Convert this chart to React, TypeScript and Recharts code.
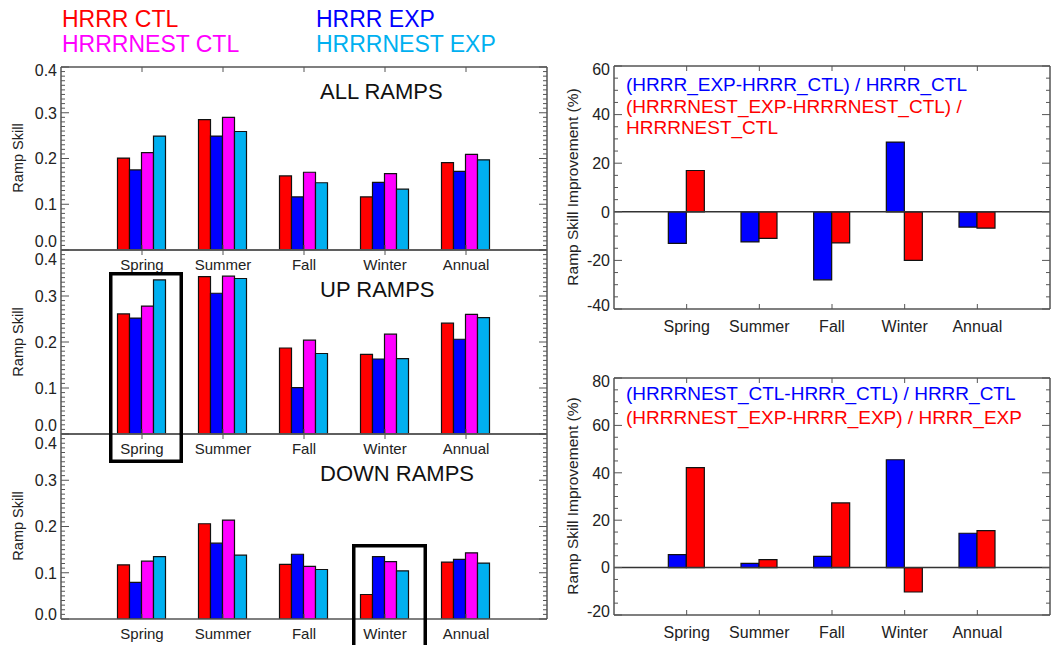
import React from 'react';
import { BarChart, Bar, Line, XAxis, YAxis, ReferenceLine } from 'recharts';

const seasons = ['Spring', 'Summer', 'Fall', 'Winter', 'Annual'];
const seasonPos = [1, 2, 3, 4, 5];

// ramp skill, ALL RAMPS
const allHrrrCtl = [0.201, 0.285, 0.162, 0.116, 0.191];
const allHrrrExp = [0.175, 0.249, 0.116, 0.148, 0.172];
const allNestCtl = [0.213, 0.29, 0.17, 0.167, 0.209];
const allNestExp = [0.249, 0.259, 0.147, 0.133, 0.197];

// UP RAMPS
const upHrrrCtl = [0.261, 0.342, 0.187, 0.173, 0.241];
const upHrrrExp = [0.252, 0.306, 0.101, 0.163, 0.206];
const upNestCtl = [0.278, 0.343, 0.204, 0.217, 0.26];
const upNestExp = [0.335, 0.338, 0.175, 0.164, 0.253];

// DOWN RAMPS
const downHrrrCtl = [0.117, 0.206, 0.118, 0.053, 0.123];
const downHrrrExp = [0.079, 0.164, 0.14, 0.135, 0.129];
const downNestCtl = [0.125, 0.214, 0.114, 0.124, 0.143];
const downNestExp = [0.135, 0.138, 0.107, 0.104, 0.121];

// improvement (%)
const expVsCtlHrrr = [-13.0, -12.4, -28.0, 28.7, -6.3];
const expVsCtlNest = [17.0, -10.9, -12.8, -20.0, -6.7];
const nestVsHrrrCtl = [5.5, 1.8, 4.7, 45.5, 14.5];
const nestVsHrrrExp = [42.2, 3.4, 27.3, -10.3, 15.6];

// axis ticks (major labels + minor marks)
const skillTicks = Array.from({ length: 41 }, (_, i) => i / 100);
const improveTopTicks = Array.from({ length: 21 }, (_, i) => -40 + i * 5);
const improveBottomTicks = Array.from({ length: 21 }, (_, i) => -20 + i * 5);

const FONT = '"Liberation Sans", Arial, Helvetica, sans-serif';
const FRAME = '#555';
const RED = '#ff0000';
const BLUE = '#0000ff';
const MAGENTA = '#ff00ff';
const CYAN = '#00b0f0';

const rows4 = (a: number[], b: number[], c: number[], d: number[]) =>
  seasons.map((name, i) => ({ name, pos: seasonPos[i], a: a[i], b: b[i], c: c[i], d: d[i] }));
const rows2 = (a: number[], b: number[]) =>
  seasons.map((name, i) => ({ name, pos: seasonPos[i], a: a[i], b: b[i] }));

const allRows = rows4(allHrrrCtl, allHrrrExp, allNestCtl, allNestExp);
const upRows = rows4(upHrrrCtl, upHrrrExp, upNestCtl, upNestExp);
const downRows = rows4(downHrrrCtl, downHrrrExp, downNestCtl, downNestExp);
const expRows = rows2(expVsCtlHrrr, expVsCtlNest);
const nestRows = rows2(nestVsHrrrCtl, nestVsHrrrExp);

const makeYTick =
  (majorStep: number, min: number, max: number, side: 'left' | 'right', fmt: (v: number) => string, minShift = -4, maxShift = 3) =>
  (props: any) => {
    const { x, y, payload } = props;
    const v = payload.value;
    const major = Math.abs(v / majorStep - Math.round(v / majorStep)) < 1e-6;
    const len = major ? 8 : 4;
    if (side === 'right') {
      return <line x1={x} x2={x - len} y1={y} y2={y} stroke={FRAME} strokeWidth={1} />;
    }
    const ax = x + 4;
    let shift = 0;
    if (Math.abs(v - min) < 1e-6) shift = minShift;
    if (Math.abs(v - max) < 1e-6) shift = maxShift;
    return (
      <g>
        <line x1={ax} x2={ax + len} y1={y} y2={y} stroke={FRAME} strokeWidth={1} />
        {major && (
          <text x={ax - 4} y={y + shift} dy="0.36em" textAnchor="end" fontSize={16} fill="#222" fontFamily={FONT}>
            {fmt(v)}
          </text>
        )}
      </g>
    );
  };

const makeXTick = (side: 'top' | 'bottom', labelGap: number, fontSize: number) => (props: any) => {
  const { x, y, payload } = props;
  if (side === 'top') return <line x1={x} x2={x} y1={y} y2={y + 5} stroke={FRAME} />;
  const idx = seasonPos.indexOf(payload.value);
  return (
    <g>
      <line x1={x} x2={x} y1={y} y2={y - 5} stroke={FRAME} />
      <text x={x} y={y + labelGap} dy="0.36em" textAnchor="middle" fontSize={fontSize} fill="#222" fontFamily={FONT}>
        {seasons[idx]}
      </text>
    </g>
  );
};

const fmtSkill = (v: number) => v.toFixed(1);
const fmtPct = (v: number) => String(Math.round(v));
const skillTopTick = makeYTick(0.1, 0, 0.4, 'left', fmtSkill, -9, 3);
const skillLowTick = makeYTick(0.1, 0, 0.4, 'left', fmtSkill, -9, 9);
const skillBottomTick = makeYTick(0.1, 0, 0.4, 'left', fmtSkill, -5, 9);
const skillRightTick = makeYTick(0.1, 0, 0.4, 'right', fmtSkill);
const impTopLeftTick = makeYTick(20, -40, 60, 'left', fmtPct);
const impTopRightTick = makeYTick(20, -40, 60, 'right', fmtPct);
const impBotLeftTick = makeYTick(20, -20, 80, 'left', fmtPct);
const impBotRightTick = makeYTick(20, -20, 80, 'right', fmtPct);

const axisLine = { stroke: FRAME, strokeWidth: 1.5 };

const SkillPanel = ({ top, plotH, rows, leftTick }: { top: number; plotH: number; rows: any[]; leftTick: any }) => {
  const h = 10 + plotH + 25;
  return (
    <div style={{ position: 'absolute', left: 0, top, width: 560, height: h }}>
      <BarChart width={560} height={h} data={rows} margin={{ top: 9, right: 12, bottom: 0, left: 0 }} barGap={0} barSize={12}>
        <XAxis dataKey="pos" type="number" domain={[0, 6]} ticks={seasonPos} interval={0} height={25}
          tickSize={0} tickMargin={0} axisLine={axisLine} tickLine={false} tick={makeXTick('bottom', 15, 15)} />
        <XAxis xAxisId="top" orientation="top" dataKey="pos" type="number" domain={[0, 6]} ticks={seasonPos}
          interval={0} height={1} tickSize={0} tickMargin={0} axisLine={axisLine} tickLine={false} tick={makeXTick('top', 0, 15)} />
        <YAxis type="number" domain={[0, 0.4]} ticks={skillTicks} interval={0} width={61} tickSize={0} tickMargin={4}
          axisLine={axisLine} tickLine={false} tick={leftTick} allowDataOverflow />
        <YAxis yAxisId="right" orientation="right" type="number" domain={[0, 0.4]} ticks={skillTicks} interval={0}
          width={1} tickSize={0} tickMargin={0} axisLine={axisLine} tickLine={false} tick={skillRightTick} allowDataOverflow />
        <Bar dataKey="a" fill={RED} stroke="#111" strokeWidth={1.2} isAnimationActive={false} />
        <Bar dataKey="b" fill={BLUE} stroke="#111" strokeWidth={1.2} isAnimationActive={false} />
        <Bar dataKey="c" fill={MAGENTA} stroke="#111" strokeWidth={1.2} isAnimationActive={false} />
        <Bar dataKey="d" fill={CYAN} stroke="#111" strokeWidth={1.2} isAnimationActive={false} />
        {/* invisible series tied to the top and right frame axes */}
        <Line xAxisId="top" yAxisId="right" dataKey="a" stroke="none" strokeOpacity={0} dot={false} activeDot={false}
          legendType="none" isAnimationActive={false} />
      </BarChart>
    </div>
  );
};

const ImprovePanel = ({ top, plotH, rows, domain, ticks, leftTick, rightTick }: any) => {
  const h = 10 + plotH + 30;
  return (
    <div style={{ position: 'absolute', left: 540, top, width: 511, height: h }}>
      <BarChart width={511} height={h} data={rows} margin={{ top: 9, right: 0, bottom: 0, left: 0 }} barGap={0} barSize={18}>
        <XAxis dataKey="pos" type="number" domain={[0, 6]} ticks={seasonPos} interval={0} height={30}
          tickSize={0} tickMargin={0} axisLine={axisLine} tickLine={false} tick={makeXTick('bottom', 17, 16)} />
        <XAxis xAxisId="top" orientation="top" dataKey="pos" type="number" domain={[0, 6]} ticks={seasonPos}
          interval={0} height={1} tickSize={0} tickMargin={0} axisLine={axisLine} tickLine={false} tick={makeXTick('top', 0, 16)} />
        <YAxis type="number" domain={domain} ticks={ticks} interval={0} width={74} tickSize={0} tickMargin={4}
          axisLine={axisLine} tickLine={false} tick={leftTick} allowDataOverflow />
        <YAxis yAxisId="right" orientation="right" type="number" domain={domain} ticks={ticks} interval={0}
          width={1} tickSize={0} tickMargin={0} axisLine={axisLine} tickLine={false} tick={rightTick} allowDataOverflow />
        <ReferenceLine y={0} stroke="#333" strokeWidth={1.5} />
        <Bar dataKey="a" fill={BLUE} stroke="#111" strokeWidth={1.2} isAnimationActive={false} />
        <Bar dataKey="b" fill={RED} stroke="#111" strokeWidth={1.2} isAnimationActive={false} />
        <Line xAxisId="top" yAxisId="right" dataKey="a" stroke="none" strokeOpacity={0} dot={false} activeDot={false}
          legendType="none" isAnimationActive={false} />
      </BarChart>
    </div>
  );
};

const App = () => {
  return (
    <div style={{ position: 'absolute', left: 0, top: 0, width: 1051, height: 645, background: '#fff', overflow: 'hidden', fontFamily: FONT }}>
      <SkillPanel top={57} plotH={183} rows={allRows} leftTick={skillTopTick} />
      <SkillPanel top={240} plotH={184} rows={upRows} leftTick={skillLowTick} />
      <SkillPanel top={424} plotH={185} rows={downRows} leftTick={skillBottomTick} />
      <ImprovePanel top={56} plotH={243} rows={expRows} domain={[-40, 60]} ticks={improveTopTicks}
        leftTick={impTopLeftTick} rightTick={impTopRightTick} />
      <ImprovePanel top={368} plotH={237} rows={nestRows} domain={[-20, 80]} ticks={improveBottomTicks}
        leftTick={impBotLeftTick} rightTick={impBotRightTick} />

      <svg width={1051} height={645} style={{ position: 'absolute', left: 0, top: 0, pointerEvents: 'none' }} fontFamily={FONT}>
        {/* legend */}
        <text x={62} y={27} fontSize={23} fill={RED}>HRRR CTL</text>
        <text x={62} y={52} fontSize={23} fill={MAGENTA}>HRRRNEST CTL</text>
        <text x={316} y={27} fontSize={23} fill={BLUE}>HRRR EXP</text>
        <text x={316} y={52} fontSize={23} fill={CYAN}>HRRRNEST EXP</text>

        {/* panel titles */}
        <text x={320} y={99} fontSize={22} fill="#111">ALL RAMPS</text>
        <text x={320} y={297} fontSize={22} fill="#111">UP RAMPS</text>
        <text x={320} y={481} fontSize={22} fill="#111">DOWN RAMPS</text>

        {/* axis titles */}
        <text transform="translate(18,158) rotate(-90)" textAnchor="middle" dy="0.36em" fontSize={14.5} fill="#222">Ramp Skill</text>
        <text transform="translate(18,342) rotate(-90)" textAnchor="middle" dy="0.36em" fontSize={14.5} fill="#222">Ramp Skill</text>
        <text transform="translate(18,526) rotate(-90)" textAnchor="middle" dy="0.36em" fontSize={14.5} fill="#222">Ramp Skill</text>
        <text transform="translate(572,187) rotate(-90)" textAnchor="middle" dy="0.36em" fontSize={15.5} fill="#222">Ramp Skill Improvement (%)</text>
        <text transform="translate(572,496) rotate(-90)" textAnchor="middle" dy="0.36em" fontSize={15.5} fill="#222">Ramp Skill Improvement (%)</text>

        {/* improvement legends */}
        <text x={626} y={91} fontSize={19} fill={BLUE}>(HRRR_EXP-HRRR_CTL) / HRRR_CTL</text>
        <text x={626} y={113} fontSize={19} fill={RED}>(HRRRNEST_EXP-HRRRNEST_CTL) /</text>
        <text x={626} y={134} fontSize={19} fill={RED}>HRRRNEST_CTL</text>
        <text x={626} y={400} fontSize={19} fill={BLUE}>(HRRRNEST_CTL-HRRR_CTL) / HRRR_CTL</text>
        <text x={626} y={424} fontSize={19} fill={RED}>(HRRRNEST_EXP-HRRR_EXP) / HRRR_EXP</text>

        {/* highlight boxes */}
        <rect x={110.75} y={273.75} width={70.5} height={187.5} fill="none" stroke="#000" strokeWidth={3.5} />
        <rect x={353.75} y={545.75} width={71.5} height={120} fill="none" stroke="#000" strokeWidth={3.5} />
      </svg>
    </div>
  );
};

export default App;
